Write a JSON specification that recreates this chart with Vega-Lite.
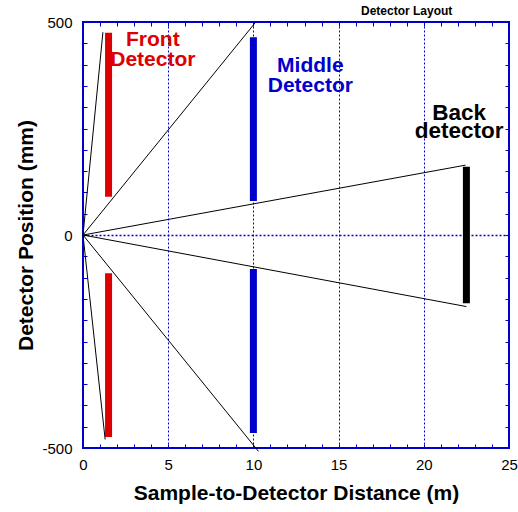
{
  "$schema": "https://vega.github.io/schema/vega-lite/v6.json",
  "width": 426,
  "height": 426,
  "autosize": "none",
  "padding": {"left": 83, "top": 22, "right": 9, "bottom": 64},
  "background": "white",
  "title": {
    "text": "Detector Layout",
    "anchor": "end",
    "dx": -65,
    "offset": -3,
    "font": "Liberation Sans",
    "fontSize": 12,
    "fontWeight": "bold",
    "color": "#000000"
  },
  "config": {
    "font": "Liberation Sans",
    "view": {"stroke": "#0000cc", "strokeWidth": 2},
    "axis": {
      "labelFont": "Liberation Sans",
      "labelFontSize": 15,
      "labelColor": "#000000",
      "labelFlush": false,
      "labelOverlap": false,
      "labelBound": false,
      "titleFont": "Liberation Sans",
      "titleFontSize": 21,
      "titleFontWeight": "bold",
      "titleColor": "#000000",
      "tickColor": "#0000cc",
      "tickSize": -4,
      "tickWidth": 1,
      "domain": false,
      "gridColor": "#0000cc",
      "gridDash": [2, 2],
      "gridWidth": 1
    }
  },
  "datasets": {
    "bars": [
      {"det": "front", "x": 1.5, "y": 90, "y2": 475},
      {"det": "front", "x": 1.5, "y": -90, "y2": -474},
      {"det": "middle", "x": 10, "y": 80, "y2": 464},
      {"det": "middle", "x": 10, "y": -80, "y2": -465},
      {"det": "back", "x": 22.5, "y": -160, "y2": 160}
    ],
    "rays": [
      {"x0": 0, "y0": 0, "x1": 1.17, "y1": 476},
      {"x0": 0, "y0": 0, "x1": 1.3, "y1": -480},
      {"x0": 0, "y0": 0, "x1": 10.1, "y1": 498},
      {"x0": 0, "y0": 0, "x1": 10.3, "y1": -508},
      {"x0": 0, "y0": 0, "x1": 22.45, "y1": 164},
      {"x0": 0, "y0": 0, "x1": 22.5, "y1": -168}
    ],
    "labels": [
      {"det": "front", "label": "Front\nDetector", "x": 4.1, "y": 444},
      {"det": "middle", "label": "Middle\nDetector", "x": 13.34, "y": 383}
    ],
    "backlabel": [
      {"det": "back", "label": "Back\ndetector", "x": 22.07, "y": 270}
    ]
  },
  "layer": [
    {
      "data": {"name": "bars"},
      "mark": {"type": "rule", "strokeWidth": 7, "strokeCap": "butt"},
      "encoding": {
        "x": {
          "field": "x",
          "type": "quantitative",
          "scale": {"domain": [0, 25], "nice": false, "zero": false},
          "axis": {
            "orient": "bottom",
            "title": "Sample-to-Detector Distance (m)",
            "values": [0,1,2,3,4,5,6,7,8,9,10,11,12,13,14,15,16,17,18,19,20,21,22,23,24,25],
            "labelExpr": "datum.value % 5 === 0 ? datum.label : ''",
            "labelPadding": 13,
            "titlePadding": 10,
            "grid": true,
            "gridOpacity": {"condition": {"test": "datum.value % 5 === 0 && datum.value > 0 && datum.value < 25", "value": 1}, "value": 0}
          }
        },
        "y": {
          "field": "y",
          "type": "quantitative",
          "scale": {"domain": [-500, 500], "nice": false, "zero": false},
          "axis": {
            "orient": "left",
            "title": "Detector Position (mm)",
            "values": [-500,-450,-400,-350,-300,-250,-200,-150,-100,-50,0,50,100,150,200,250,300,350,400,450,500],
            "labelExpr": "datum.value % 500 === 0 ? toString(datum.value) : ''",
            "labelPadding": 15,
            "titlePadding": 5,
            "grid": true,
            "gridWidth": 1.5,
            "gridOpacity": {"condition": {"test": "datum.value === 0", "value": 1}, "value": 0}
          }
        },
        "y2": {"field": "y2"},
        "color": {
          "field": "det",
          "type": "nominal",
          "scale": {"domain": ["front", "middle", "back"], "range": ["#dd0000", "#0000cc", "#000000"]},
          "legend": null
        }
      }
    },
    {
      "data": {"name": "rays"},
      "mark": {"type": "rule", "color": "#000000", "strokeWidth": 1},
      "encoding": {
        "x": {
          "field": "x0",
          "type": "quantitative",
          "axis": {
            "orient": "top",
            "title": null,
            "labels": false,
            "grid": false,
            "values": [0,1,2,3,4,5,6,7,8,9,10,11,12,13,14,15,16,17,18,19,20,21,22,23,24,25]
          }
        },
        "y": {
          "field": "y0",
          "type": "quantitative",
          "axis": {
            "orient": "right",
            "title": null,
            "labels": false,
            "grid": false,
            "values": [-500,-450,-400,-350,-300,-250,-200,-150,-100,-50,0,50,100,150,200,250,300,350,400,450,500]
          }
        },
        "x2": {"field": "x1"},
        "y2": {"field": "y1"}
      }
    },
    {
      "data": {"name": "labels"},
      "mark": {"type": "text", "fontWeight": "bold", "align": "center", "baseline": "alphabetic", "font": "Liberation Sans", "fontSize": 21, "lineBreak": "\n", "lineHeight": 20.5},
      "encoding": {
        "x": {"field": "x", "type": "quantitative", "axis": null},
        "y": {"field": "y", "type": "quantitative", "axis": null},
        "text": {"field": "label", "type": "nominal"},
        "color": {"field": "det", "type": "nominal", "legend": null}
      }
    },
    {
      "data": {"name": "backlabel"},
      "mark": {"type": "text", "fontWeight": "bold", "align": "center", "baseline": "alphabetic", "font": "Liberation Sans", "fontSize": 22.5, "lineBreak": "\n", "lineHeight": 18.5},
      "encoding": {
        "x": {"field": "x", "type": "quantitative", "axis": null},
        "y": {"field": "y", "type": "quantitative", "axis": null},
        "text": {"field": "label", "type": "nominal"},
        "color": {"field": "det", "type": "nominal", "legend": null}
      }
    }
  ],
  "resolve": {"axis": {"x": "independent", "y": "independent"}}
}
